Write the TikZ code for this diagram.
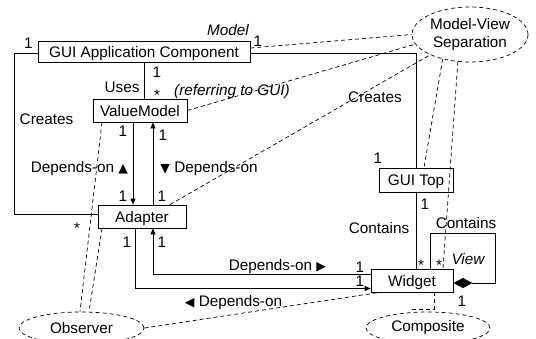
\documentclass[tikz,border=0pt]{standalone}
\usepackage{fontspec}
\setmainfont{Liberation Sans}
\newfontfamily\symfont{DejaVu Sans}
\usetikzlibrary{shapes.geometric,arrows.meta,calc}
% small pointer triangles next to the association names
\newcommand\pointer[1]{\raisebox{0.5pt}{\symfont\fontsize{12.5}{12.5}\selectfont #1}}
% "many" multiplicity, boxed tightly around the raised asterisk
\newcommand\multstar{\raisebox{0pt}[11pt][-5pt]{*}}

\begin{document}
\begin{tikzpicture}[x=1pt,y=-1pt,
  font=\fontsize{15.3}{17.5}\selectfont,
  box/.style={draw, rectangle, line width=0.8pt, inner sep=0pt,
    text height=12pt, text depth=1pt},
  oval/.style={draw, ellipse, line width=0.7pt, dash pattern=on 4pt off 3pt,
    inner sep=0pt},
  lbl/.style={inner sep=0pt, anchor=base},
  link/.style={line width=0.8pt},
  note/.style={line width=0.7pt, dash pattern=on 4pt off 3pt},
  tip/.style={-{Triangle[length=6pt,width=5pt]}},
]
\useasboundingbox (0,0) rectangle (536,338);

% classes
\node[box, minimum width=212pt, minimum height=21pt] (gac) at (144,51.5) {GUI Application Component};
\node[box, minimum width=94pt, minimum height=23pt] (vm) at (140,110.5) {ValueModel};
\node[box, minimum width=88pt, minimum height=23pt] (ad) at (142,216.5) {Adapter};
\node[box, minimum width=74pt, minimum height=24pt] (gt) at (416,180) {GUI Top};
\node[box, minimum width=82pt, minimum height=23pt] (wd) at (412,280.5) {Widget};

% patterns
\node[oval, minimum width=116pt, minimum height=55pt, align=center] (mvs) at (470,34.5) {Model-View\\Separation};
\node[oval, minimum width=125pt, minimum height=32pt] (obs) at (81.5,328) {Observer};
\node[oval, minimum width=124pt, minimum height=32pt] (comp) at (428,328) {Composite};

% associations
\draw[link] ($(gac.west)+(0,1.5)$) -| ($(ad.west)+(-83,-2.5)$) -- ($(ad.west)+(0,-2.5)$);
\draw[link] ($(gac.east)+(0,1.5)$) -| (gt.north);
\draw[link] (gac.south) -- (gac.south |- vm.north);
\draw[link,tip] (vm.south -| 133,0) -- (ad.north -| 133,0);
\draw[link,tip] (ad.north -| 153,0) -- (vm.south -| 153,0);
\draw[link] (gt.south) -- (gt.south |- wd.north);
\draw[link,tip] ($(wd.west)+(0,-6.5)$) -| (ad.south -| 153,0);
\draw[link,tip] (ad.south -| 135,0) |- ($(wd.west)+(0,8)$);
\draw[link,{Diamond[length=19pt,width=10pt]}-] ($(wd.east)+(0,2.5)$) -- ++(42,0) -- ++(0,-50) -| (wd.north -| 430,0);

% pattern participation
\draw[note] ($(gac.east)+(0,-3.5)$) -- (mvs.west);
\draw[note] (vm.east) -- (mvs.190);
\draw[note] ($(ad.north)+(28,0)$) -- (mvs.207);
\draw[note] (mvs.222) -- ($(gt.north)+(8,0)$);
\draw[note] (mvs.246) -- ($(wd.north)+(31,0)$);
\draw[note] ($(wd.south)+(22,0)$) |- ($(comp.north)+(-18,-2)$);
\draw[note] ($(vm.south)+(-38,0)$) -- ($(obs.north)+(-1.5,0)$);
\draw[note] ($(ad.south)+(-40,0)$) -- ($(obs.north)+(7.5,0)$);
\draw[note] (obs.east) -- ($(wd.south west)+(9,0)$);

% role names, multiplicities and association names
\node[lbl] at (228,35.5) {\itshape Model};
\node[lbl] at (28.5,48) {1};
\node[lbl] at (258,46.5) {1};
\node[lbl] at (157,77.5) {1};
\node[lbl] at (157,100.5) {\multstar};
\node[lbl] at (122,92.5) {Uses};
\node[lbl] at (232,95.5) {\itshape (referring to GUI)};
\node[lbl] at (46.5,124) {Creates};
\node[lbl] at (123,136.5) {1};
\node[lbl] at (163,140.5) {1};
\node[lbl] at (79.5,172.5) {Depends-on \pointer{▲}};
\node[lbl] at (209,172.5) {\pointer{▼} Depends-on};
\node[lbl] at (123,201.5) {1};
\node[lbl] at (162,201.5) {1};
\node[lbl] at (77,233.8) {\multstar};
\node[lbl] at (375,102.5) {Creates};
\node[lbl] at (378,163.5) {1};
\node[lbl] at (425,209.5) {1};
\node[lbl] at (379,233.5) {Contains};
\node[lbl] at (421,270.8) {\multstar};
\node[lbl] at (439,270) {\multstar};
\node[lbl] at (466,228.5) {Contains};
\node[lbl] at (468,264.5) {\itshape View};
\node[lbl] at (127,247.5) {1};
\node[lbl] at (162,247.5) {1};
\node[lbl] at (277.5,270.5) {Depends-on \pointer{▶}};
\node[lbl] at (360,272) {1};
\node[lbl] at (360,286) {1};
\node[lbl] at (233.5,306.5) {\pointer{◀} Depends-on};
\node[lbl] at (462,306.5) {1};
\end{tikzpicture}
\end{document}
